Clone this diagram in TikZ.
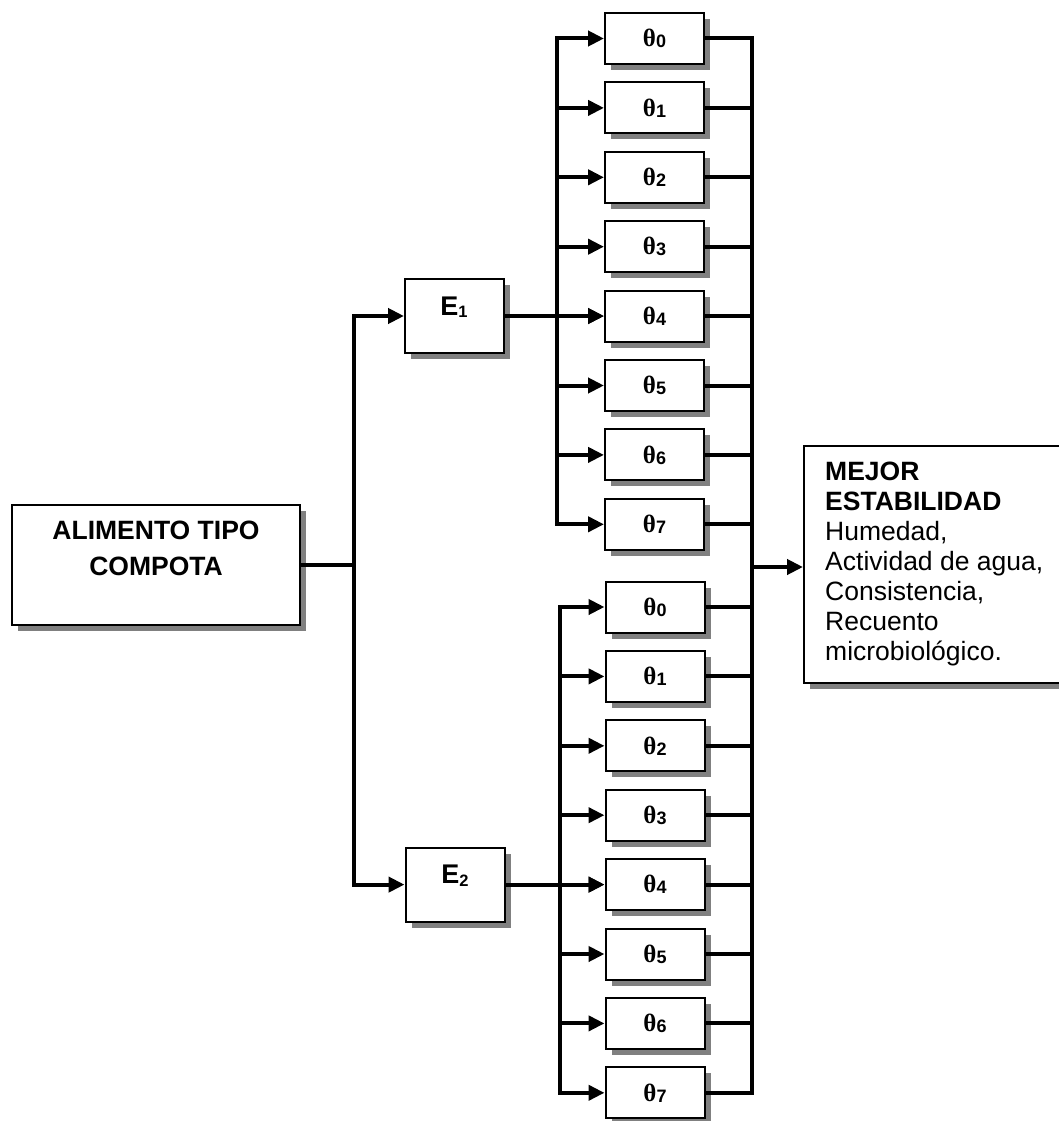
\documentclass[tikz,border=0pt]{standalone}
\usepackage{fontspec}
\setmainfont{Liberation Sans}
\newfontfamily\serifb{Liberation Serif}
\usetikzlibrary{arrows.meta,shadows}
\tikzset{
  box/.style={draw=black, line width=2pt, fill=white, rectangle, inner sep=0pt,
    drop shadow={shadow xshift=6pt, shadow yshift=-6pt, fill=gray, opacity=1}},
  conn/.style={line width=4pt},
  arr/.style={conn, -{Triangle[length=16pt,width=15pt]}},
  thbox/.style={box, minimum width=99pt, minimum height=51pt, font=\fontsize{25}{25}\selectfont},
  ebox/.style={box, minimum width=99pt, minimum height=74pt},
  elbl/.style={inner sep=0pt, anchor=base, font=\fontsize{27}{27}\selectfont\bfseries},
}
\newcommand\thl[1]{{\serifb\bfseries θ}\raisebox{-1pt}{\fontsize{18}{18}\selectfont\bfseries #1}}
\newcommand\esub[1]{\raisebox{-2.7pt}{\fontsize{16.5}{16.5}\selectfont\bfseries #1}}
\begin{document}
\begin{tikzpicture}[x=1pt,y=-1pt]
\clip (0,0) rectangle (1059,1121);
\fill[white] (0,0) rectangle (1059,1121);

% main box
\node[box, minimum width=288pt, minimum height=120pt] (main) at (156,565) {};
\node[inner sep=0pt, anchor=north, align=center, font=\fontsize{26.5}{36}\selectfont\bfseries] (maint) at (156,521) {ALIMENTO TIPO\\COMPOTA};

% E boxes
\node[ebox] (E1) at (454.5,316) {};
\node[elbl] (E1t) at (454,315) {E\esub{1}};
\node[ebox] (E2) at (455,884.6) {};
\node[elbl] (E2t) at (455,883.6) {E\esub{2}};

% theta boxes
\foreach \i in {0,...,7} {
  \node[thbox] (t1\i) at (654.5,38.5+69.4*\i) {\thl{\i}};
  \node[thbox] (t2\i) at (655,607+69.4*\i) {\thl{\i}};
}

% result box
\node[box, minimum width=262pt, minimum height=237pt, anchor=north west] (res) at (803,445) {};
\node[inner sep=0pt, anchor=north west, align=left, font=\fontsize{26.5}{30}\selectfont] (rest) at (825,462)
  {\textbf{MEJOR}\\\textbf{ESTABILIDAD}\\Humedad,\\Actividad de agua,\\Consistencia,\\Recuento\\microbiológico.};

% coordinates of buses
\coordinate (jm) at (354,565);
\coordinate (c1) at (557,0);
\coordinate (c2) at (560,0);
\coordinate (rb) at (752,0);
\coordinate (o) at (752,567);

% main -> E1, E2
\draw[conn] (main.east) -- (jm);
\draw[arr] (jm) |- (E1.west);
\draw[arr] (jm) |- (E2.west);

% E -> theta columns
\draw[arr] (E1.east) -- (E1.east -| t14.west);
\draw[arr] (E2.east) -- (E2.east -| t24.west);
\draw[arr] (t17.west -| c1) |- (t10.west);
\draw[arr] (t10.west -| c1) |- (t17.west);
\draw[arr] (t27.west -| c2) |- (t20.west);
\draw[arr] (t20.west -| c2) |- (t27.west);
\foreach \i in {1,...,6} {
  \draw[arr] (t1\i.west -| c1) -- (t1\i.west);
  \draw[arr] (t2\i.west -| c2) -- (t2\i.west);
}

% theta -> right bus
\draw[conn] (t10.east) -| (t27.east -| rb) -- (t27.east);
\foreach \i in {1,...,7} {
  \draw[conn] (t1\i.east) -- (t1\i.east -| rb);
}
\foreach \i in {0,...,6} {
  \draw[conn] (t2\i.east) -- (t2\i.east -| rb);
}

% output
\draw[arr] (o) -- (o -| res.west);
\end{tikzpicture}
\end{document}
